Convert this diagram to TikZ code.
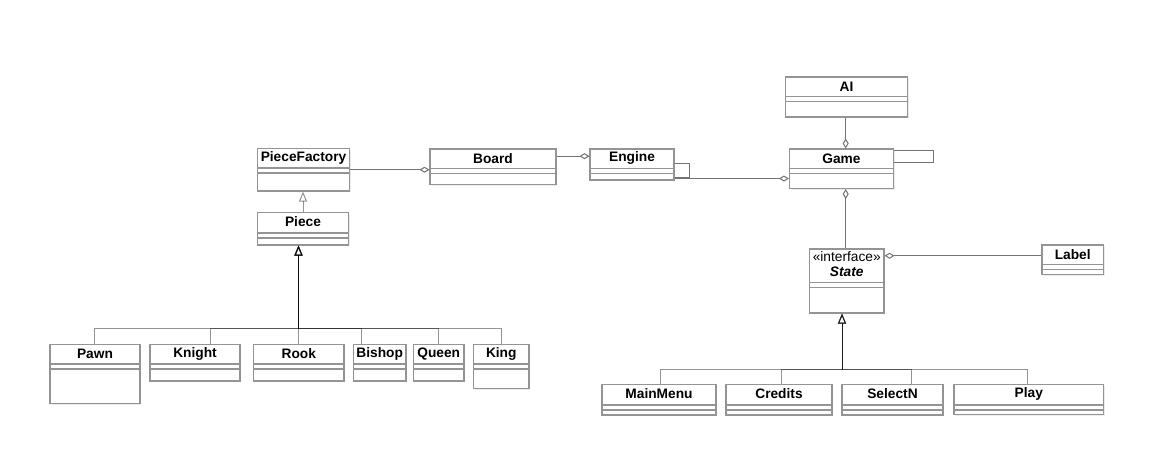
\documentclass[tikz,border=0pt]{standalone}
\usepackage{fontspec}
\setmainfont{Liberation Sans}
\usetikzlibrary{arrows.meta,calc,fit,shadows}
\tikzset{
  classbox/.style={draw=black!42, line width=0.8pt, fill=white, inner sep=0pt,
    drop shadow={shadow xshift=1pt, shadow yshift=-1pt, opacity=0.15}},
  cname/.style={font=\bfseries\fontsize{10.3}{12}\selectfont, inner sep=0pt, text=black},
  plaintxt/.style={font=\fontsize{10.3}{12}\selectfont, inner sep=0pt, text=black},
  comp/.style={draw=black!42, line width=0.8pt},
  gen/.style={draw=black, draw opacity=0.42, line width=0.75pt,
    -{Triangle[open, length=7.5pt, width=6pt]}},
  agg/.style={draw=black!55, line width=0.75pt,
    -{Diamond[open, length=7.5pt, width=4.5pt]}},
  assoc/.style={draw=black!55, line width=0.75pt},
}
\newcommand\umlclass[7][20]{%
  \coordinate (#2-a) at (#3,#4);
  \coordinate (#2-b) at (#5,#6);
  \node[classbox, fit=(#2-a)(#2-b)] (#2) {};
  \node[cname] (#2-t) at ($(#2.north)+(0,10)$) {#7};
  \draw[comp] ($(#2.north west)+(0,#1)$) -- ($(#2.north east)+(0,#1)$);
  \draw[comp] ($(#2.north west)+(0,{#1+5})$) -- ($(#2.north east)+(0,{#1+5})$);
}
\begin{document}
\begin{tikzpicture}[x=0.75pt, y=-0.75pt]
\useasboundingbox (0,0) rectangle (1160,461);

% classes
\umlclass{pf}{257.5}{148.5}{349.5}{191}{PieceFactory}
\umlclass{board}{430}{149}{556}{184.5}{Board}
\umlclass{engine}{590}{149}{674}{180}{Engine}
\umlclass{game}{789.5}{149}{893.5}{188.5}{Game}
\umlclass{ai}{785.5}{77}{907.5}{117}{AI}
\umlclass[21]{piece}{257.5}{212.5}{348.5}{245}{Piece}
\umlclass[34]{state}{809.5}{249}{884}{313}{}
\node[plaintxt] (state-s) at ($(state.north)+(0,8.3)$) {«interface»};
\node[cname, font=\bfseries\itshape\fontsize{10.3}{12}\selectfont] (state-n) at ($(state.north)+(0,23.3)$) {State};
\umlclass{label}{1042}{245}{1103.5}{274.5}{Label}

\umlclass{pawn}{50}{344.5}{140}{403.5}{Pawn}
\umlclass{knight}{150}{344.5}{240}{381}{Knight}
\umlclass{rook}{253.5}{344.5}{344}{381}{Rook}
\umlclass{bishop}{353.5}{344.5}{406}{381}{Bishop}
\umlclass{queen}{413.5}{344.5}{464}{381}{Queen}
\umlclass{king}{473.5}{344.5}{529}{388.5}{King}

\umlclass[21]{mainmenu}{602}{384.5}{716}{415}{MainMenu}
\umlclass[21]{credits}{726}{384.5}{832}{415}{Credits}
\umlclass[21]{selectn}{842}{384.5}{943}{415}{SelectN}
\umlclass[21]{play}{954}{384.5}{1103.5}{414.5}{Play}

% aggregations
\draw[agg] (pf.east) -- (pf.east -| board.west);
\coordinate (b1) at ($(board.north east)+(0,7.7)$);
\draw[agg] (b1) -- (b1 -| engine.west);
\draw[assoc] ($(engine.north east)+(0,15.3)$) -- ++(15.3,0) -- ++(0,13.4) -- ++(-15.3,0);
\coordinate (e1) at ($(engine.south east)+(0,-2)$);
\draw[agg] (e1) -- (e1 -| game.west);
\draw[assoc] ($(game.north east)+(0,1.7)$) -- ++(39.2,0) -- ++(0,12.6) -- ++(-39.2,0);
\coordinate (a1) at ($(ai.south)+(-0.8,0)$);
\draw[agg] (a1) -- (a1 |- game.north);
\draw[agg] (a1 |- state.north) -- (a1 |- game.south);
\coordinate (l1) at ($(label.west)+(0,-4)$);
\draw[agg] (l1) -- (l1 -| state.east);

% generalizations
\draw[gen] (piece.north) -- (piece.north |- pf.south);
\coordinate (pbus) at (298.5,328.5);
\foreach \n/\dx in {pawn/-0.5, knight/15, rook/-0.25, bishop/-18, queen/0, king/0}
  \draw[gen] ($(\n.north)+(\dx,0)$) |- (pbus) -- (pbus |- piece.south);
\coordinate (sbus) at (842,369);
\foreach \n/\dx in {mainmenu/1, credits/2, selectn/18.5, play/-1.75}
  \draw[gen] ($(\n.north)+(\dx,0)$) |- (sbus) -- (sbus |- state.south);
\end{tikzpicture}
\end{document}
